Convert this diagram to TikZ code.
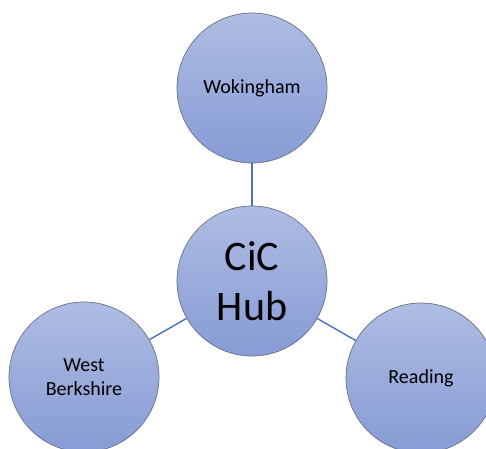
\documentclass[tikz,border=0pt]{standalone}
\usepackage{fontspec}
\setmainfont{Carlito}
\definecolor{topc}{HTML}{AEBDE3}
\definecolor{botc}{HTML}{879BD5}
\definecolor{rimc}{HTML}{6B7184}
\definecolor{linkc}{HTML}{4A72BE}
\tikzset{
  bubble/.style={circle, minimum size=150pt, inner sep=0pt, draw=rimc, line width=0.7pt,
    top color=topc, bottom color=botc, align=center, text=black},
  small/.style={font=\fontsize{20}{24}\selectfont},
  big/.style={font=\fontsize{42}{50}\selectfont},
  link/.style={draw=linkc, line width=1.4pt}
}
\begin{document}
\begin{tikzpicture}[x=1pt,y=-1pt]
\clip (0,0) rectangle (486,448);
\useasboundingbox (0,0) rectangle (486,448);
\fill[white] (0,0) rectangle (486,448);
\node[bubble, small] (wok) at (252,88) {Wokingham};
\node[bubble, big] (hub) at (252,281) {CiC\\Hub};
\node[bubble, small] (wb) at (84,377) {West\\Berkshire};
\node[bubble, small] (rd) at (421,378) {Reading};
\draw[link] (wok) -- (hub);
\draw[link] (hub) -- (wb);
\draw[link] (hub) -- (rd);
\end{tikzpicture}
\end{document}
